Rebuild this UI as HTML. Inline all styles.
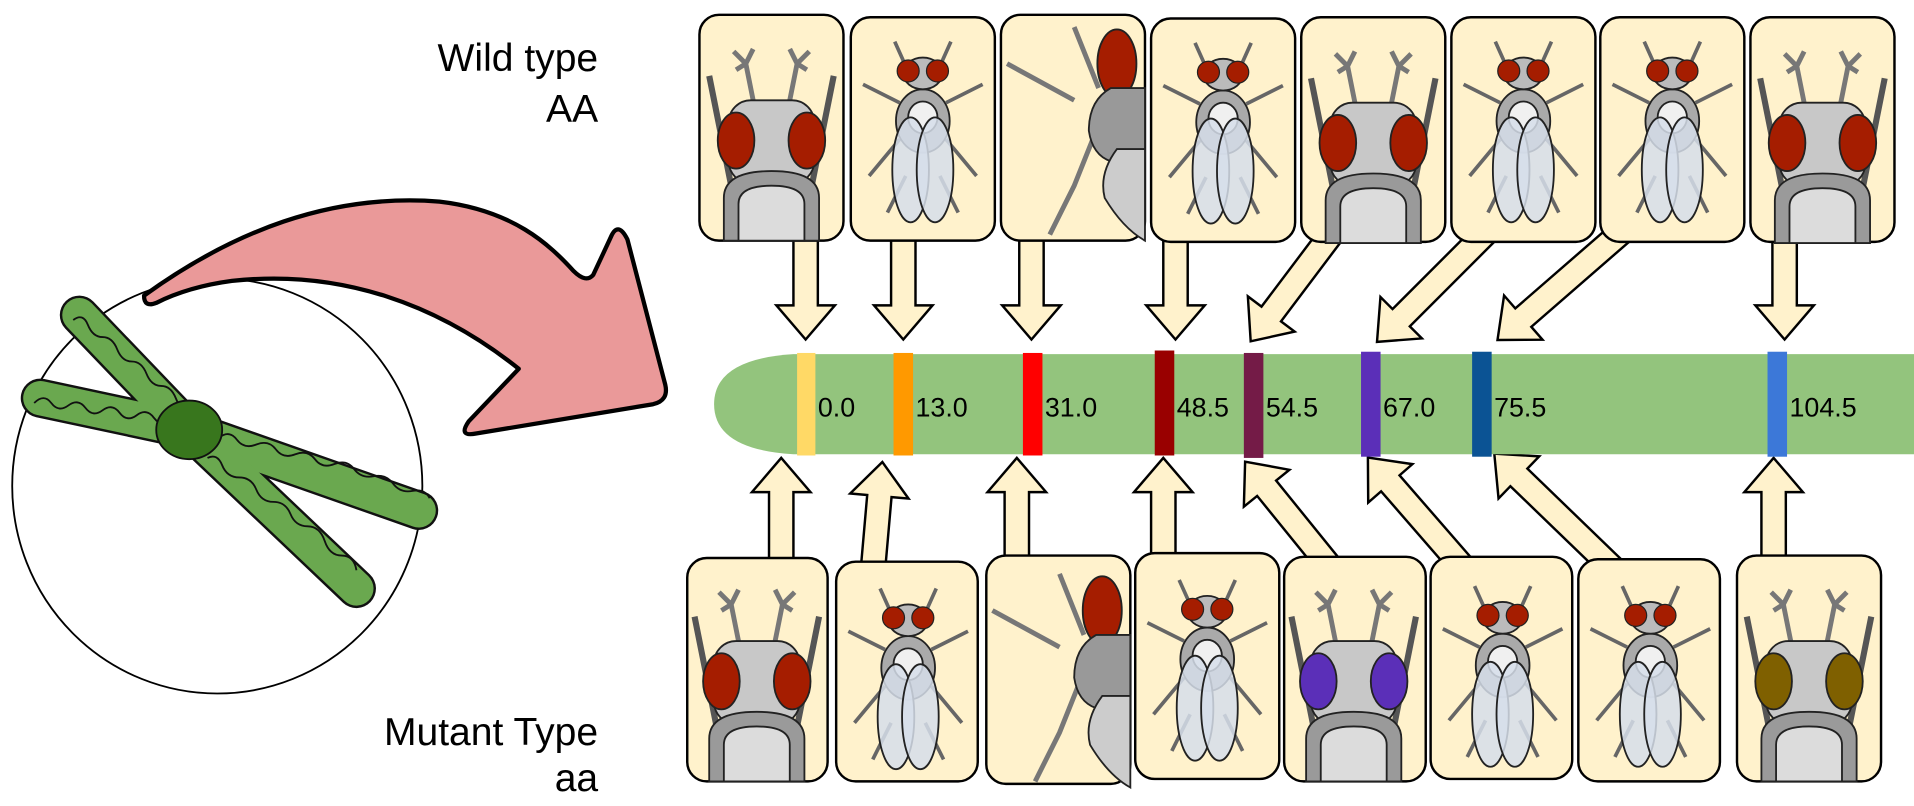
<!DOCTYPE html>
<html><head><meta charset="utf-8"><style>
html,body{margin:0;padding:0;background:#fff;width:1914px;height:806px;overflow:hidden}
svg{display:block}
text{font-family:"Liberation Sans",sans-serif}
</style></head><body>
<svg width="1914" height="806" viewBox="0 0 1568 660" xmlns="http://www.w3.org/2000/svg">
<defs>
<g id="head">
 <path d="M44,70 L38,40 M38,40 L28,30 M38,40 L44,28 M38,40 L30,45 M74,70 L80,40 M80,40 L90,30 M80,40 L74,28 M80,40 L88,45" stroke="#777" stroke-width="4" fill="none"/>
 <path d="M8,50 L20,110 L28,150 M110,50 L98,110 L90,150" stroke="#555" stroke-width="5" fill="none"/>
 <rect x="24" y="70" width="70" height="68" rx="18" fill="#c8c8c8" stroke="#222" stroke-width="1.5"/>
 <ellipse cx="30" cy="103" rx="15" ry="23" fill="var(--eye,#a51d00)" stroke="#222" stroke-width="1.5"/>
 <ellipse cx="88" cy="103" rx="15" ry="23" fill="var(--eye,#a51d00)" stroke="#222" stroke-width="1.5"/>
 <path d="M20,185 L20,150 Q20,128 59,128 Q98,128 98,150 L98,185 Z" fill="#9a9a9a" stroke="#222" stroke-width="1.5"/>
 <path d="M32,185 L32,155 Q32,140 59,140 Q86,140 86,155 L86,185 Z" fill="#dcdcdc" stroke="#222" stroke-width="1.5"/>
</g>
<g id="body">
 <path d="M45,40 L36,20 M73,40 L82,20 M40,70 L10,55 M78,70 L108,55 M40,100 L15,130 M78,100 L103,130 M45,130 L30,160 M73,130 L88,160" stroke="#666" stroke-width="3" fill="none"/>
 <ellipse cx="59" cy="85" rx="22" ry="26" fill="#aaa" stroke="#222" stroke-width="1.5"/>
 <ellipse cx="59" cy="82" rx="12" ry="13" fill="#f0f0f0" stroke="#222" stroke-width="1.5"/>
 <ellipse cx="59" cy="46" rx="16" ry="13" fill="#bbb" stroke="#222" stroke-width="1.5"/>
 <circle cx="47" cy="44" r="9" fill="var(--eye,#a51d00)" stroke="#222"/>
 <circle cx="71" cy="44" r="9" fill="var(--eye,#a51d00)" stroke="#222"/>
 <ellipse cx="49" cy="125" rx="15" ry="43" fill="#d6deea" fill-opacity="0.85" stroke="#222" stroke-width="1.5"/>
 <ellipse cx="69" cy="125" rx="15" ry="43" fill="#d6deea" fill-opacity="0.85" stroke="#222" stroke-width="1.5"/>
</g>
<g id="side">
 <path d="M60,10 L80,60 M5,40 L60,70 M80,90 L60,140 L40,180" stroke="#777" stroke-width="4" fill="none"/>
 <ellipse cx="95" cy="40" rx="16" ry="28" fill="#a51d00" stroke="#222" stroke-width="1.5"/>
 <path d="M118,60 L90,60 Q72,70 72,95 Q75,115 90,120 L118,120 Z" fill="#999" stroke="#222" stroke-width="1.5"/>
 <path d="M118,110 L95,110 Q80,130 85,150 Q100,175 118,185 Z" fill="#ccc" stroke="#222" stroke-width="1.5"/>
</g>
</defs>

<!-- circle & chromosome -->
<ellipse cx="178" cy="398" rx="168" ry="170" fill="#fff" stroke="#000" stroke-width="1.5"/>
<g stroke-linecap="round" fill="none">
 <g stroke="#111" stroke-width="32">
  <line x1="155" y1="352" x2="65" y2="258"/>
  <line x1="155" y1="352" x2="33" y2="326"/>
  <line x1="155" y1="352" x2="343" y2="418"/>
  <line x1="155" y1="352" x2="292" y2="482"/>
 </g>
 <g stroke="#6aa84f" stroke-width="28">
  <line x1="155" y1="352" x2="65" y2="258"/>
  <line x1="155" y1="352" x2="33" y2="326"/>
  <line x1="155" y1="352" x2="343" y2="418"/>
  <line x1="155" y1="352" x2="292" y2="482"/>
 </g>
</g>
<g fill="none" stroke="#111" stroke-width="1.5">
 <path d="M60,262 q8,-6 12,4 t12,10 t12,10 t12,10 t12,10 t12,10 t12,10 t10,12"/>
 <path d="M28,330 q8,-8 14,0 t14,2 t14,2 t14,2 t14,2 t14,2 t14,2 t14,4"/>
 <path d="M180,358 q8,-6 14,2 t16,4 t16,4 t16,4 t16,4 t16,4 t16,4 t16,6 t16,6 t16,6 t14,6"/>
 <path d="M170,375 q8,-4 12,6 t14,10 t14,10 t14,10 t14,10 t14,10 t14,12 t14,12 t12,12"/>
</g>
<ellipse cx="155" cy="352" rx="27" ry="24" fill="#38761d" stroke="#111" stroke-width="1.5"/>

<!-- pink arrow -->
<path d="M118,242 C190,190 270,158 360,165 C420,172 450,200 470,222 Q480,232 486,225 L500,195 Q506,180 514,196 L545,315 Q548,328 535,331 L390,355 Q375,358 384,345 L425,302 C360,250 280,220 190,230 C160,234 140,242 128,248 Q118,252 118,242 Z" fill="#ea9999" stroke="#000" stroke-width="3.5" stroke-linejoin="round"/>

<!-- labels -->
<text x="490" y="58" font-size="32" text-anchor="end">Wild type</text>
<text x="490" y="100" font-size="32" text-anchor="end">AA</text>
<text x="490" y="610" font-size="32" text-anchor="end">Mutant Type</text>
<text x="490" y="648" font-size="32" text-anchor="end">aa</text>

<!-- arrows -->
<g fill="#fff2cc" stroke="#000" stroke-width="2" stroke-linejoin="miter">
 <polygon transform="translate(660,190) rotate(0)" points="-10,0 10,0 10,60 24,60 0,88 -24,60 -10,60"/>
 <polygon transform="translate(740,190) rotate(0)" points="-10,0 10,0 10,60 24,60 0,88 -24,60 -10,60"/>
 <polygon transform="translate(845,190) rotate(0)" points="-10,0 10,0 10,60 24,60 0,88 -24,60 -10,60"/>
 <polygon transform="translate(963,190) rotate(0)" points="-10,0 10,0 10,60 24,60 0,88 -24,60 -10,60"/>
 <polygon transform="translate(1092,190) rotate(37)" points="-10,0 10,0 10,84 24,84 0,112 -24,84 -10,84"/>
 <polygon transform="translate(1220,188) rotate(45)" points="-10,0 10,0 10,102 24,102 0,130 -24,102 -10,102"/>
 <polygon transform="translate(1340,180) rotate(49)" points="-10,0 10,0 10,122 24,122 0,150 -24,122 -10,122"/>
 <polygon transform="translate(1462,190) rotate(0)" points="-10,0 10,0 10,60 24,60 0,88 -24,60 -10,60"/>

 <polygon transform="translate(640,465) rotate(180)" points="-10,0 10,0 10,62 24,62 0,90 -24,62 -10,62"/>
 <polygon transform="translate(715,468) rotate(-175)" points="-10,0 10,0 10,62 24,62 0,90 -24,62 -10,62"/>
 <polygon transform="translate(833,465) rotate(180)" points="-10,0 10,0 10,62 24,62 0,90 -24,62 -10,62"/>
 <polygon transform="translate(953,465) rotate(180)" points="-10,0 10,0 10,62 24,62 0,90 -24,62 -10,62"/>
 <polygon transform="translate(1088,462) rotate(141)" points="-10,0 10,0 10,80 24,80 0,108 -24,80 -10,80"/>
 <polygon transform="translate(1200,466) rotate(139)" points="-10,0 10,0 10,93 24,93 0,121 -24,93 -10,93"/>
 <polygon transform="translate(1322,466) rotate(134)" points="-10,0 10,0 10,108 24,108 0,136 -24,108 -10,108"/>
 <polygon transform="translate(1453,465) rotate(180)" points="-10,0 10,0 10,62 24,62 0,90 -24,62 -10,62"/>
</g>

<!-- bar -->
<path d="M650,290 L1568,290 L1568,372 L650,372 Q585,368 585,331 Q585,294 650,290 Z" fill="#93c47d"/>
<g>
 <rect x="653" y="289" width="15" height="84" fill="#ffd966"/>
 <rect x="732" y="289" width="16" height="84" fill="#ff9900"/>
 <rect x="838" y="289" width="16" height="84" fill="#ff0000"/>
 <rect x="946" y="287" width="16" height="86" fill="#990000"/>
 <rect x="1019" y="289" width="16" height="86" fill="#741b47"/>
 <rect x="1115" y="288" width="16" height="86" fill="#5b2fb8"/>
 <rect x="1206" y="288" width="16" height="86" fill="#0b5394"/>
 <rect x="1448" y="288" width="16" height="86" fill="#3c78d8"/>
</g>
<g font-size="22" fill="#000">
 <text x="670" y="341">0.0</text>
 <text x="750" y="341">13.0</text>
 <text x="856" y="341">31.0</text>
 <text x="964" y="341">48.5</text>
 <text x="1037" y="341">54.5</text>
 <text x="1133" y="341">67.0</text>
 <text x="1224" y="341">75.5</text>
 <text x="1466" y="341">104.5</text>
</g>

<!-- top cards -->
<g fill="#fff2cc" stroke="#000" stroke-width="2">
 <rect x="573" y="12" width="118" height="185" rx="16"/>
 <rect x="697" y="14" width="118" height="183" rx="16"/>
 <rect x="820" y="12" width="118" height="185" rx="16"/>
 <rect x="943" y="15" width="118" height="183" rx="16"/>
 <rect x="1066" y="14" width="118" height="184" rx="16"/>
 <rect x="1189" y="14" width="118" height="184" rx="16"/>
 <rect x="1311" y="14" width="118" height="184" rx="16"/>
 <rect x="1434" y="14" width="118" height="184" rx="16"/>
</g>
<use href="#head" x="573" y="12"/>
<use href="#body" x="697" y="14"/>
<use href="#side" x="820" y="12"/>
<use href="#body" x="943" y="15"/>
<use href="#head" x="1066" y="14"/>
<use href="#body" x="1189" y="14"/>
<use href="#body" x="1311" y="14"/>
<use href="#head" x="1434" y="14"/>

<!-- bottom cards -->
<g fill="#fff2cc" stroke="#000" stroke-width="2">
 <rect x="563" y="457" width="115" height="183" rx="16"/>
 <rect x="685" y="460" width="116" height="180" rx="16"/>
 <rect x="808" y="455" width="118" height="187" rx="16"/>
 <rect x="930" y="453" width="118" height="185" rx="16"/>
 <rect x="1052" y="456" width="116" height="184" rx="16"/>
 <rect x="1172" y="456" width="116" height="182" rx="16"/>
 <rect x="1293" y="458" width="116" height="182" rx="16"/>
 <rect x="1423" y="455" width="118" height="185" rx="16"/>
</g>
<use href="#head" x="561" y="455"/>
<use href="#body" x="685" y="462"/>
<use href="#side" x="808" y="460"/>
<use href="#body" x="930" y="455"/>
<use href="#head" x="1050" y="455" style="--eye:#5b2fb8"/>
<use href="#body" x="1172" y="460"/>
<use href="#body" x="1293" y="460"/>
<use href="#head" x="1423" y="455" style="--eye:#7f6000"/>
</svg>
</body></html>
